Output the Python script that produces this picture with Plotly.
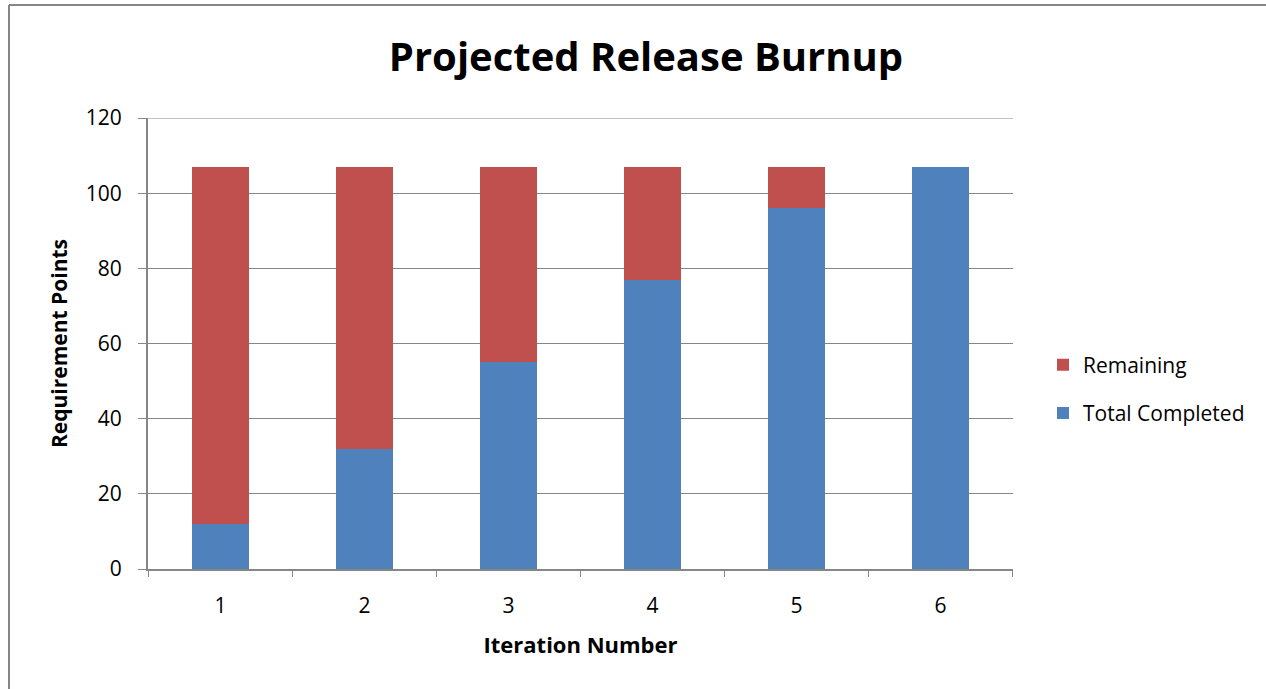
import plotly.graph_objects as go

iterations = ["1", "2", "3", "4", "5", "6"]
total_completed = [12, 32, 55, 77, 96, 107]
remaining = [95, 75, 52, 30, 11, 0]
y_ticks = [0, 20, 40, 60, 80, 100, 120]

FONT = "Open Sans"
W, H = 1266, 689
L, R, T, B = 148, 1013, 118, 569
pw, ph = R - L, B - T

fig = go.Figure()
fig.add_trace(go.Bar(x=iterations, y=total_completed, name="Total Completed", legendgroup="b",
                     legendrank=2, marker=dict(color="#4F81BD", line=dict(width=0))))
fig.add_trace(go.Bar(x=iterations, y=remaining, name="Remaining", legendgroup="a",
                     legendrank=1, marker=dict(color="#C0504D", line=dict(width=0))))

fig.update_layout(
    width=W, height=H,
    barmode="stack", bargap=0.6,
    paper_bgcolor="white", plot_bgcolor="white",
    margin=dict(l=L, r=W - R, t=T, b=H - B),
    font=dict(family=FONT, color="black", size=21),
    title=dict(text="<b>Projected Release Burnup</b>", x=(390 + 902) / 2 / W, xanchor="center",
               y=1 - 57 / H, yanchor="middle", font=dict(size=40, family=FONT)),
    showlegend=True,
    legend=dict(x=(1043 - L) / pw, xanchor="left", y=(B - 389) / ph, yanchor="middle",
                traceorder="grouped", font=dict(size=21), itemwidth=30,
                tracegroupgap=18),
    xaxis=dict(showgrid=False, showline=True, linecolor="#868686", linewidth=2,
               ticks="", tickfont=dict(size=21), ticklabelstandoff=17,
               title=dict(text="<b>Iteration Number</b>", font=dict(size=22), standoff=19)),
    yaxis=dict(range=[0, 120], tickvals=y_ticks, showgrid=True, gridcolor="#868686", gridwidth=1,
               showline=True, linecolor="#868686", linewidth=2, ticks="outside", ticklen=8,
               tickcolor="#868686", tickwidth=1, tickfont=dict(size=21), zeroline=False,
               ticklabelstandoff=12,
               title=dict(text="<b>Requirement Points</b>", font=dict(size=21), standoff=12)),
)

# top gridline at the range maximum
fig.add_shape(type="line", xref="paper", yref="y", x0=0, x1=1, y0=y_ticks[-1], y1=y_ticks[-1],
              line=dict(color="#868686", width=1), layer="below")

# x-axis category boundary tick marks
for i in range(7):
    fig.add_shape(type="line", xref="x", yref="paper", x0=i - 0.5, x1=i - 0.5,
                  y0=0, y1=-8 / ph, line=dict(color="#868686", width=1))

# outer chart border (left and top visible)
fig.add_shape(type="line", xref="paper", yref="paper",
              x0=(9 - L) / pw, x1=(9 - L) / pw, y0=(B - H - 5) / ph, y1=(B - 5) / ph,
              line=dict(color="#868686", width=2), layer="below")
fig.add_shape(type="line", xref="paper", yref="paper",
              x0=(9 - L) / pw, x1=(W + 5 - L) / pw, y0=(B - 5) / ph, y1=(B - 5) / ph,
              line=dict(color="#868686", width=2), layer="below")

fig.write_html("out.html", config={"displayModeBar": False},
               post_script="document.body.style.margin='0';")
